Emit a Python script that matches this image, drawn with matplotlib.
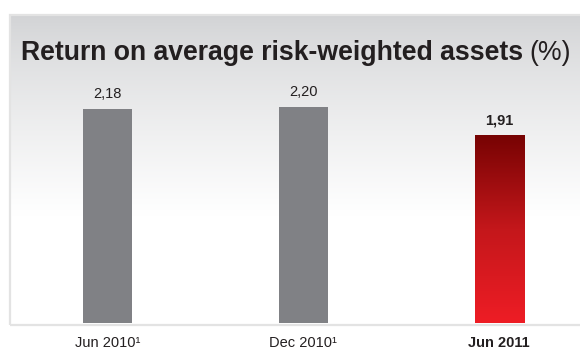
import numpy as np
import matplotlib
matplotlib.use("Agg")
import matplotlib.pyplot as plt
from matplotlib.colors import LinearSegmentedColormap
from matplotlib.patches import Rectangle

plt.rcParams['font.family'] = ['Liberation Sans', 'DejaVu Sans']

# Data
categories = ["Jun 2010¹", "Dec 2010¹", "Jun 2011"]
values = [2.18, 2.20, 1.91]
value_labels = ["2,18", "2,20", "1,91"]
title_main = "Return on average risk-weighted assets"
title_unit = "(%)"

W, H = 580, 349
fig = plt.figure(figsize=(W / 100, H / 100), dpi=100)
fig.patch.set_facecolor("white")

def px_rect(x0, y0, x1, y1):
    """Figure-fraction rect from pixel coords measured from top-left."""
    return [x0 / W, 1 - y1 / H, (x1 - x0) / W, (y1 - y0) / H]

# Panel background with vertical grey-to-white gradient
panel_top, panel_bottom, panel_left = 15, 324, 10
bg = fig.add_axes(px_rect(panel_left, panel_top, W + 5, panel_bottom), zorder=0)
t = np.linspace(0, 1, 300)[:, None]
shade = np.clip(t / 0.65, 0, 1) ** 0.8
top_col = np.array([0.823, 0.827, 0.835])
grad = top_col[None, None, :] * (1 - shade[..., None]) + shade[..., None] * 1.0
grad = np.repeat(grad, 2, axis=1)
bg.imshow(grad, aspect="auto", extent=[0, 1, 0, 1], interpolation="bilinear")
bg.set_xlim(0, 1)
bg.set_ylim(0, 1)
bg.axis("off")

# Panel border (left and bottom visible)
border = Rectangle((panel_left / W, 1 - (panel_bottom + 1) / H),
                   (W + 20 - panel_left) / W, (panel_bottom + 1 - panel_top) / H,
                   transform=fig.transFigure, fill=False,
                   edgecolor="#e3e3e3", linewidth=1.6, zorder=1)
fig.patches.append(border)

# Main bar axes
ax = fig.add_axes(px_rect(panel_left, panel_top, W, 322.7), zorder=2)
ax.patch.set_alpha(0)
x = np.arange(len(categories))
bar_w = 0.25
spacing_px = 196.0
left_off = (107.2 - panel_left) / spacing_px
ax.set_xlim(-left_off, -left_off + (W - panel_left) / spacing_px)
ax.set_ylim(0, (322.7 - panel_top) / 98.2)

gray = "#808185"
bars = ax.bar(x, values, width=bar_w, color=[gray, gray, "none"], linewidth=0, zorder=2)

# Red gradient fill for the latest bar
red_cmap = LinearSegmentedColormap.from_list("red_grad", ["#ee1d25", "#c4171b", "#770303"])
b = bars[2]
gy = np.linspace(0, 1, 256)[:, None]
im = ax.imshow(np.repeat(gy, 2, axis=1), cmap=red_cmap, origin="lower", aspect="auto",
               extent=[b.get_x(), b.get_x() + b.get_width(), 0, b.get_height()],
               zorder=2, interpolation="bilinear")
im.set_clip_path(b)

text_col = "#231f20"
for i, (v, lab) in enumerate(zip(values, value_labels)):
    ax.annotate(lab, (x[i], v), xytext=(0, 10.5), textcoords="offset points",
                ha="center", va="center", fontsize=10.5, color=text_col,
                fontweight="bold" if i == 2 else "normal")

ax.set_xticks(x, categories)
ax.tick_params(axis="x", length=0, pad=9.5, labelsize=10.5, labelcolor=text_col)
ax.get_xticklabels()[2].set_fontweight("bold")
ax.set_yticks([])
for s in ax.spines.values():
    s.set_visible(False)

# Title: bold main text followed by regular unit
tmain = fig.text(21 / W, 1 - 60 / H, title_main, fontsize=19.2, fontweight="bold",
                 color=text_col, va="baseline", ha="left", zorder=5)
fig.canvas.draw()
ext = tmain.get_window_extent()
fig.text((ext.x1 + 6) / W, 1 - 60 / H, title_unit, fontsize=19.2, color=text_col,
         va="baseline", ha="left", zorder=5)

fig.savefig("out.png", dpi=100)
